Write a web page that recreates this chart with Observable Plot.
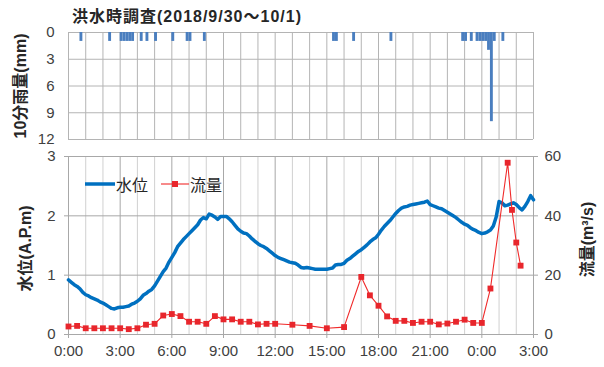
<!DOCTYPE html>
<html>
<head>
<meta charset="utf-8">
<script src="https://cdn.jsdelivr.net/npm/d3@7"></script>
<script src="https://cdn.jsdelivr.net/npm/@observablehq/plot@0.6"></script>
<style>
  body { margin: 0; background: #fff; }
  #chart { position: relative; width: 604px; height: 367px; background: #fff; overflow: hidden;
           font-family: "Liberation Sans", "Noto Sans CJK JP", sans-serif; color: #404040; }
  #title { position: absolute; left: 72px; top: 3px; font-weight: bold; font-size: 16px; letter-spacing: 1px;
           color: #262626; white-space: nowrap; }
  #top, #bottom { position: absolute; left: 0; }
  #top { top: 0; }
  #bottom { top: 142px; }
  #legend { position: absolute; left: 84px; top: 172px; font-size: 16px; color: #262626; display: flex; align-items: center; white-space: nowrap; }
  #legend svg { display: block; }
  #legend span { margin-right: 12px; font-family: "Noto Sans CJK JP", sans-serif; }
</style>
</head>
<body>
<div id="chart">
  <div id="title">洪水時調査(2018/9/30～10/1)</div>
  <div id="top"></div>
  <div id="bottom"></div>
  <div id="legend"></div>
</div>
<script>
// 10-minute rainfall (mm), start of each 10-minute period
const rainTimes = [
  "9/30 0:40", "9/30 2:20", "9/30 3:00", "9/30 3:10", "9/30 3:20", "9/30 3:30", "9/30 3:40",
  "9/30 4:10", "9/30 4:30", "9/30 5:00", "9/30 6:00", "9/30 6:50", "9/30 7:00", "9/30 7:50",
  "9/30 15:20", "9/30 15:30", "9/30 16:30", "9/30 18:40", "9/30 22:50", "9/30 23:00",
  "9/30 23:20", "9/30 23:40", "9/30 23:50", "10/1 0:00", "10/1 0:10", "10/1 0:20",
  "10/1 0:30", "10/1 0:40", "10/1 1:10"
];
const rainMm = [
  1, 1, 1, 1, 1, 1, 1,
  1, 1, 1, 1, 1, 1, 1,
  1, 1, 1, 1, 1, 1,
  1, 1, 1, 1, 1, 2,
  10, 1, 1
];

// Water level (A.P. m), every 10 minutes from 9/30 0:00 to 10/1 3:00
const levelStart = "9/30 0:00";
const levelStepMinutes = 10;
const levelValues = [
  0.92, 0.88, 0.84, 0.81, 0.77, 0.71,
  0.67, 0.65, 0.62, 0.60, 0.58, 0.55,
  0.53, 0.50, 0.47, 0.44, 0.43, 0.45,
  0.46, 0.46, 0.47, 0.48, 0.51, 0.53,
  0.56, 0.60, 0.66, 0.69, 0.73, 0.76,
  0.82, 0.90, 0.98, 1.06, 1.12, 1.22,
  1.30, 1.38, 1.48, 1.54, 1.60, 1.65,
  1.70, 1.75, 1.80, 1.85, 1.93, 1.97,
  1.95, 2.03, 2.01, 1.98, 1.94, 1.99,
  1.99, 1.99, 1.95, 1.90, 1.84, 1.78,
  1.74, 1.71, 1.70, 1.66, 1.61, 1.57,
  1.53, 1.50, 1.48, 1.45, 1.41, 1.37,
  1.33, 1.30, 1.28, 1.26, 1.24, 1.22,
  1.21, 1.20, 1.17, 1.13, 1.12, 1.13,
  1.12, 1.11, 1.10, 1.10, 1.10, 1.10,
  1.10, 1.11, 1.12, 1.17, 1.18, 1.18,
  1.20, 1.25, 1.28, 1.32, 1.36, 1.40,
  1.43, 1.47, 1.51, 1.56, 1.60, 1.63,
  1.69, 1.76, 1.82, 1.87, 1.92, 1.98,
  2.04, 2.09, 2.13, 2.15, 2.16, 2.18,
  2.19, 2.20, 2.21, 2.22, 2.23, 2.25,
  2.19, 2.17, 2.15, 2.13, 2.12, 2.09,
  2.06, 2.03, 2.00, 1.97, 1.93, 1.89,
  1.86, 1.84, 1.80, 1.77, 1.75, 1.72,
  1.70, 1.71, 1.73, 1.76, 1.83, 1.98,
  2.24, 2.22, 2.17, 2.18, 2.20, 2.22,
  2.19, 2.14, 2.10, 2.16, 2.24, 2.34,
  2.27
];

// Discharge (m3/s) at the observation times
const flowTimes = [
  "9/30 0:00", "9/30 0:30", "9/30 1:00", "9/30 1:30", "9/30 2:00", "9/30 2:30", "9/30 3:00",
  "9/30 3:30", "9/30 4:00", "9/30 4:30", "9/30 5:00", "9/30 5:30", "9/30 6:00", "9/30 6:30",
  "9/30 7:00", "9/30 7:30", "9/30 8:00", "9/30 8:30", "9/30 9:00", "9/30 9:30", "9/30 10:00",
  "9/30 10:30", "9/30 11:00", "9/30 11:30", "9/30 12:00", "9/30 13:00", "9/30 14:00",
  "9/30 15:00", "9/30 16:00", "9/30 17:00", "9/30 17:30", "9/30 18:00", "9/30 18:30",
  "9/30 19:00", "9/30 19:30", "9/30 20:00", "9/30 20:30", "9/30 21:00", "9/30 21:30",
  "9/30 22:00", "9/30 22:30", "9/30 23:00", "9/30 23:30", "10/1 0:00", "10/1 0:30",
  "10/1 1:30", "10/1 1:45", "10/1 2:00", "10/1 2:15"
];
const flowValues = [
  2.7, 2.9, 2.1, 2.1, 2.1, 2.1, 2.1,
  1.8, 2.1, 3.3, 3.6, 6.4, 6.9, 6.2,
  4.3, 4.3, 3.6, 6.2, 5.1, 5.1, 4.3,
  4.3, 3.4, 3.6, 3.6, 3.3, 2.9,
  2.1, 2.5, 19.4, 13.2, 9.7, 6.1,
  4.6, 4.6, 3.9, 4.3, 4.3, 3.4,
  3.7, 4.3, 5.0, 3.9, 3.9, 15.5,
  57.9, 42.0, 31.0, 23.2
];

// Axis ticks
const rainTicks = [0, 3, 6, 9, 12];
const levelTicks = [0, 1, 2, 3];
const flowTickLabels = ["0", "20", "40", "60"];
const timeTickHours = [0, 3, 6, 9, 12, 15, 18, 21, 24, 27];
const timeTickLabels = ["0:00", "3:00", "6:00", "9:00", "12:00", "15:00", "18:00", "21:00", "0:00", "3:00"];

// hours elapsed since 9/30 0:00
function hoursOf(s) {
  const [day, hm] = s.split(" ");
  const [h, m] = hm.split(":").map(Number);
  return (day === "10/1" ? 24 : 0) + h + m / 60;
}

const rain = rainTimes.map((t, i) => ({t0: hoursOf(t), t1: hoursOf(t) + 10 / 60, mm: rainMm[i]}));
const level = levelValues.map((v, i) => ({t: hoursOf(levelStart) + i * levelStepMinutes / 60, v}));
const flow = flowTimes.map((t, i) => ({t: hoursOf(t), q: flowValues[i]}));

// flow axis spans 0–60 against the level axis 0–3
const flowPerLevel = 20;

const W = 604, left = 68, right = 71;
const hourGrid = d3.range(0, 28);
const font = {fontFamily: "'Liberation Sans', 'Noto Sans CJK JP', sans-serif", fontSize: "15px",
              color: "#404040", background: "transparent", overflow: "visible"};
const titleFont = "'Liberation Sans', 'Noto Sans CJK JP', sans-serif";
const intFormat = d3.format("d");

const topPlot = Plot.plot({
  width: W, height: 142,
  marginLeft: left, marginRight: right, marginTop: 32, marginBottom: 3,
  style: font,
  x: {domain: [0, 27], axis: null},
  y: {domain: [0, 12], reverse: true, axis: null},
  marks: [
    Plot.gridX(hourGrid, {stroke: "#b4b4b4", strokeOpacity: 1}),
    Plot.gridY(rainTicks, {stroke: "#b4b4b4", strokeOpacity: 1}),
    Plot.rectY(rain, {x1: "t0", x2: "t1", y: "mm", fill: "#4a7ebf", inset: 0}),
    Plot.axisY(rainTicks, {anchor: "left", tickSize: 0, tickPadding: 14, label: null,
      fill: "#404040", tickFormat: intFormat}),
    Plot.text(["10分雨量(mm)"], {frameAnchor: "left", textAnchor: "middle", rotate: -90, dx: -48,
      fontWeight: "bold", fontSize: 16, fill: "#262626", fontFamily: titleFont})
  ]
});
document.getElementById("top").appendChild(topPlot);

const bottomPlot = Plot.plot({
  width: W, height: 225,
  marginLeft: left, marginRight: right, marginTop: 14, marginBottom: 33,
  style: font,
  x: {domain: [0, 27], axis: null},
  y: {domain: [0, 3], axis: null},
  marks: [
    Plot.gridX(hourGrid.filter(h => h % 3 !== 0), {stroke: "#d0d0d0", strokeOpacity: 1}),
    Plot.gridX(timeTickHours, {stroke: "#a8a8a8", strokeOpacity: 1}),
    Plot.gridY(levelTicks, {stroke: "#a8a8a8", strokeOpacity: 1}),
    Plot.axisY(levelTicks, {anchor: "left", tickSize: 4, tickPadding: 9, label: null,
      stroke: "#a8a8a8", fill: "#404040", tickFormat: intFormat}),
    Plot.axisY(levelTicks, {anchor: "right", tickSize: 4, tickPadding: 7, label: null,
      stroke: "#a8a8a8", fill: "#404040", tickFormat: (d, i) => flowTickLabels[i]}),
    Plot.axisX(timeTickHours, {anchor: "bottom", tickSize: 4, tickPadding: 7, label: null,
      stroke: "#a8a8a8", fill: "#404040", tickFormat: (d, i) => timeTickLabels[i]}),
    Plot.line(level, {x: "t", y: "v", stroke: "#0070c0", strokeWidth: 3.5, strokeLinejoin: "round"}),
    Plot.line(flow, {x: "t", y: d => d.q / flowPerLevel, stroke: "#f02a2a", strokeWidth: 1.1}),
    Plot.dot(flow, {x: "t", y: d => d.q / flowPerLevel, symbol: "square", r: 3.3, fill: "#e8262c", stroke: "none"}),
    Plot.text(["水位(A.P.m)"], {frameAnchor: "left", textAnchor: "middle", rotate: -90, dx: -43, dy: 3,
      fontWeight: "bold", fontSize: 16, fill: "#262626", fontFamily: titleFont}),
    Plot.text(["流量(m³/s)"], {frameAnchor: "right", textAnchor: "middle", rotate: -90, dx: 54, dy: -6,
      fontWeight: "bold", fontSize: 16, fill: "#262626", fontFamily: titleFont})
  ]
});
document.getElementById("bottom").appendChild(bottomPlot);

// legend
const legend = document.getElementById("legend");
legend.innerHTML =
  `<svg width="32" height="20"><line x1="1" x2="31" y1="10" y2="10" stroke="#0070c0" stroke-width="3.5"/></svg>` +
  `<span>水位</span>` +
  `<svg width="30" height="20"><line x1="1" x2="29" y1="10" y2="10" stroke="#f02a2a" stroke-width="1.1"/>` +
  `<rect x="12" y="7" width="6" height="6" fill="#e8262c"/></svg>` +
  `<span>流量</span>`;
</script>
</body>
</html>
